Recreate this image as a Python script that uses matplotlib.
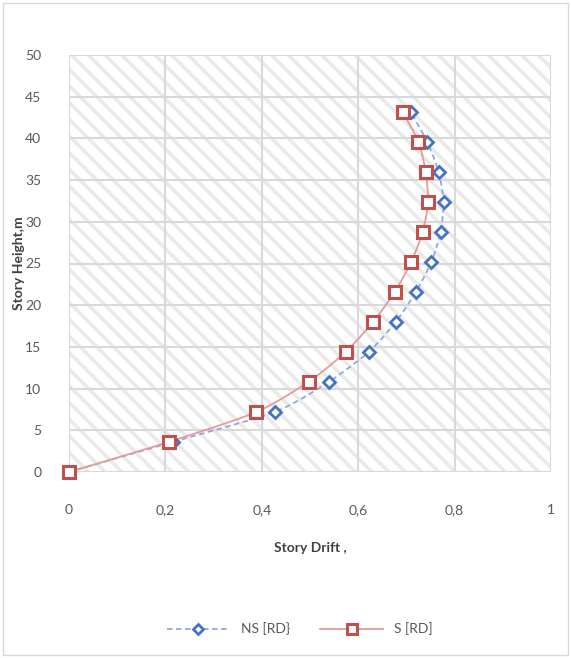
import numpy as np
import matplotlib
matplotlib.use("Agg")
import matplotlib.pyplot as plt
from matplotlib.patches import Rectangle
from matplotlib.lines import Line2D

heights = [0, 3.6, 7.2, 10.8, 14.4, 18.0, 21.6, 25.2, 28.8, 32.4, 36.0, 39.6, 43.2]
ns_drift = [0, 0.215, 0.427, 0.539, 0.622, 0.678, 0.720, 0.752, 0.771, 0.777, 0.767, 0.743, 0.709]
s_drift = [0, 0.207, 0.389, 0.497, 0.574, 0.631, 0.676, 0.710, 0.734, 0.745, 0.740, 0.725, 0.692]
x_ticks = [0, 0.2, 0.4, 0.6, 0.8, 1]
x_tick_labels = ["0", "0,2", "0,4", "0,6", "0,8", "1"]
y_ticks = [0, 5, 10, 15, 20, 25, 30, 35, 40, 45, 50]

plt.rcParams['font.family'] = ['Lato', 'DejaVu Sans']
plt.rcParams['hatch.color'] = '#eaeaea'
plt.rcParams['hatch.linewidth'] = 2.6


def smooth(x, y, n=20):
    x = np.asarray(x, float); y = np.asarray(y, float)
    px = np.concatenate([[2 * x[0] - x[1]], x, [2 * x[-1] - x[-2]]])
    py = np.concatenate([[2 * y[0] - y[1]], y, [2 * y[-1] - y[-2]]])
    xs, ys = [], []
    t = np.linspace(0, 1, n, endpoint=False)
    for i in range(1, len(px) - 2):
        p0, p1, p2, p3 = [np.array([px[j], py[j]]) for j in range(i - 1, i + 3)]
        m1 = (p2 - p0) / 2 * 0.7
        m2 = (p3 - p1) / 2 * 0.7
        h00 = 2 * t**3 - 3 * t**2 + 1
        h10 = t**3 - 2 * t**2 + t
        h01 = -2 * t**3 + 3 * t**2
        h11 = t**3 - t**2
        pts = np.outer(h00, p1) + np.outer(h10, m1) + np.outer(h01, p2) + np.outer(h11, m2)
        xs.extend(pts[:, 0]); ys.extend(pts[:, 1])
    xs.append(x[-1]); ys.append(y[-1])
    return np.array(xs), np.array(ys)


fig = plt.figure(figsize=(5.71, 6.58), dpi=100)
fig.patches.append(Rectangle((0.006, 0.005), 0.988, 0.99, transform=fig.transFigure,
                             fill=False, edgecolor='#d9d9d9', linewidth=1))
ax = fig.add_axes([69 / 571, 1 - 472 / 658, (551 - 69) / 571, (472 - 55) / 658])
ax.patch.set_facecolor('white')
ax.patch.set_hatch('\\\\')
ax.patch.set_edgecolor('#eaeaea')
ax.patch.set_linewidth(0)
ax.set_xlim(0, 1)
ax.set_ylim(0, 50)
ax.set_xticks(x_ticks)
ax.set_xticklabels(x_tick_labels)
ax.set_yticks(y_ticks)
ax.grid(True, color='#d9d9d9', linewidth=1.5)
ax.set_axisbelow(True)
for s in ax.spines.values():
    s.set_visible(False)
ax.tick_params(length=0, labelsize=10, colors='#595959')
ax.tick_params(axis='x', pad=23)
ax.tick_params(axis='y', pad=20)

nsc_line = '#8eaadb'
nsc_mark = '#4472c4'
sc_line = '#e39c9b'
sc_mark = '#c0504d'

xs, ys = smooth(ns_drift, heights)
ax.plot(xs, ys, color=nsc_line, linestyle=(0, (3, 2)), linewidth=1.3, zorder=3, clip_on=False)
ax.plot(ns_drift, heights, linestyle='none', marker='D', markersize=6.5, markerfacecolor='white',
        markeredgecolor=nsc_mark, markeredgewidth=2, zorder=4, clip_on=False)
xs, ys = smooth(s_drift, heights)
ax.plot(xs, ys, color=sc_line, linestyle='-', linewidth=1.3, zorder=3, clip_on=False)
ax.plot(s_drift, heights, linestyle='none', marker='s', markersize=8.5, markerfacecolor='white',
        markeredgecolor=sc_mark, markeredgewidth=2.2, zorder=5, clip_on=False)

ax.set_xlabel('Story Drift ,', fontsize=10, fontweight='bold', color='#404040')
ax.xaxis.set_label_coords(0.5, (472 - 548) / 417)
ax.xaxis.label.set_va('center')
ax.set_ylabel('Story Height,m', fontsize=10, fontweight='bold', color='#404040')
ax.yaxis.set_label_coords((19 - 69) / 482, 0.5)
ax.yaxis.label.set_va('center')

handles = [
    Line2D([], [], color=nsc_line, linestyle=(0, (3, 2)), linewidth=1.3, marker='D', markersize=5,
           markerfacecolor='white', markeredgecolor=nsc_mark, markeredgewidth=2),
    Line2D([], [], color=sc_line, linestyle='-', linewidth=1.3, marker='s', markersize=7,
           markerfacecolor='white', markeredgecolor=sc_mark, markeredgewidth=2.2),
]
fig.legend(handles, ['NS [RD}', 'S [RD]'], loc='center', bbox_to_anchor=(0.525, 1 - 629 / 658),
           ncol=2, frameon=False, fontsize=10, labelcolor='#595959', handlelength=4.5,
           columnspacing=2.2)

fig.savefig('out.png', dpi=100)
